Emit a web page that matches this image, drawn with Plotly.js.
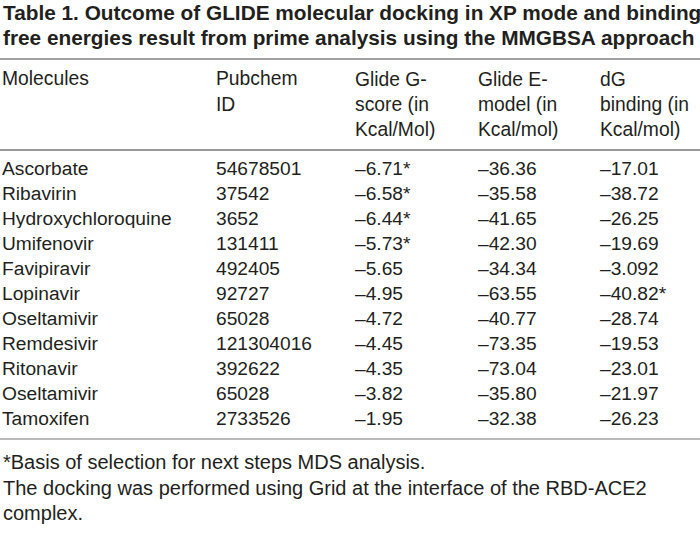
<!DOCTYPE html>
<html>
<head>
<meta charset="utf-8">
<script src="https://cdn.plot.ly/plotly-3.0.1.min.js"></script>
<style>html,body{margin:0;padding:0;background:#fff;overflow:hidden;}#chart{position:absolute;left:-6px;top:0;width:706px;height:534px;}</style>
</head>
<body>
<div id="chart"></div>
<script>
const columnHeaders = ["<br><br>Molecules", "<br>Pubchem<br>ID", "Glide G-<br>score (in<br>Kcal/Mol)", "Glide E-<br>model (in<br>Kcal/mol)", "dG<br>binding (in<br>Kcal/mol)"];
const molecules = ["Ascorbate", "Ribavirin", "Hydroxychloroquine", "Umifenovir", "Favipiravir", "Lopinavir", "Oseltamivir", "Remdesivir", "Ritonavir", "Oseltamivir", "Tamoxifen"];
const pubchemIds = ["54678501", "37542", "3652", "131411", "492405", "92727", "65028", "121304016", "392622", "65028", "2733526"];
const glideGScore = ["–6.71*", "–6.58*", "–6.44*", "–5.73*", "–5.65", "–4.95", "–4.72", "–4.45", "–4.35", "–3.82", "–1.95"];
const glideEModel = ["–36.36", "–35.58", "–41.65", "–42.30", "–34.34", "–63.55", "–40.77", "–73.35", "–73.04", "–35.80", "–32.38"];
const dGBinding = ["–17.01", "–38.72", "–26.25", "–19.69", "–3.092", "–40.82*", "–28.74", "–19.53", "–23.01", "–21.97", "–26.23"];
const titleLines = ["Table 1. Outcome of GLIDE molecular docking in XP mode and binding", "free energies result from prime analysis using the MMGBSA approach"];
const footnotes = ["*Basis of selection for next steps MDS analysis.", "The docking was performed using Grid at the interface of the RBD-ACE2", "complex."];

const W = 706, H = 534, OFF = 6;
const txt = "#231f20";
const py = v => 1 - v / H;
const pxx = v => (v + OFF) / W;
const bodyFont = {family: "Liberation Sans, Arial, sans-serif", size: 20, color: txt};
const cellFont = {family: "Liberation Sans, Arial, sans-serif", size: 19.2, color: txt};
const headFont = {family: "Liberation Sans, Arial, sans-serif", size: 19.3, color: txt};

const trace = {
  type: "table",
  domain: {x: [0, 1], y: [0, py(60.5)]},
  columnwidth: [214, 139, 123, 122, 108],
  header: {
    values: columnHeaders,
    align: "left",
    height: 92.5,
    fill: {color: "white"},
    line: {width: 0, color: "white"},
    font: headFont
  },
  cells: {
    values: [molecules, pubchemIds, glideGScore, glideEModel, dGBinding],
    align: "left",
    height: 25,
    fill: {color: "white"},
    line: {width: 0, color: "white"},
    font: cellFont
  }
};

const rule = (ypx, w, c) => ({type: "line", xref: "paper", yref: "paper", x0: pxx(0), x1: 1, y0: py(ypx), y1: py(ypx), line: {color: c, width: w}});

const titleAnn = titleLines.map((t, i) => ({
  text: "<b>" + t + "</b>", xref: "paper", yref: "paper", x: pxx(1), y: py(12 + i * 26),
  xanchor: "left", yanchor: "middle", showarrow: false,
  font: {family: "Liberation Sans, Arial, sans-serif", size: 20.8, color: txt}
}));
const footAnn = footnotes.map((t, i) => ({
  text: t, xref: "paper", yref: "paper", x: pxx(1), y: py(462 + i * 25.5),
  xanchor: "left", yanchor: "middle", showarrow: false,
  font: bodyFont
}));

const layout = {
  width: W, height: H,
  margin: {l: 0, r: 0, t: 0, b: 0},
  paper_bgcolor: "white",
  shapes: [rule(59, 2, "#a0a0a0"), rule(150, 1.5, "#777777"), rule(439, 1.2, "#777777")],
  annotations: titleAnn.concat(footAnn)
};

Plotly.newPlot("chart", [trace], layout, {displayModeBar: false, staticPlot: true});
</script>
</body>
</html>
